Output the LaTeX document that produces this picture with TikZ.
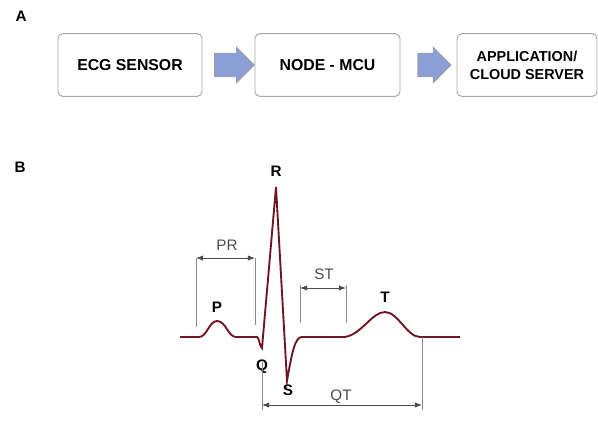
\documentclass[tikz,border=0pt]{standalone}
\usepackage{fontspec}
\setmainfont{Liberation Sans}
\usetikzlibrary{shapes.arrows,arrows.meta}

\definecolor{ecgred}{RGB}{112,22,34}
\definecolor{flowblue}{RGB}{140,158,214}
\definecolor{dimgray}{RGB}{75,75,75}

\tikzset{
    blockbox/.style={draw=gray!70, line width=0.8pt, rounded corners=4pt, fill=white,
        minimum height=1.88cm, align=center, font=\fontsize{13.5}{16}\selectfont\bfseries},
    flowarrow/.style={single arrow, draw=gray!75, line width=0.6pt, fill=flowblue,
        inner xsep=0pt, inner ysep=0.345cm, single arrow head extend=0.18cm},
    ecgline/.style={draw=ecgred, line width=1.6pt},
    dimline/.style={draw=dimgray, line width=0.7pt, {Latex[length=6pt,width=4.5pt]}-{Latex[length=6pt,width=4.5pt]}},
    extline/.style={draw=gray!90, line width=0.5pt},
    wavelabel/.style={font=\fontsize{13}{15}\selectfont\bfseries},
    intlabel/.style={text=dimgray, font=\fontsize{13}{15}\selectfont},
    panellabel/.style={font=\fontsize{13}{15}\selectfont\bfseries}
}

\begin{document}
\begin{tikzpicture}[x=0.03cm, y=-0.03cm]
    \useasboundingbox (0,0) rectangle (598,423);

    % Panel A: block chain
    \node[panellabel] (labA) at (21,16) {A};
    \node[blockbox, minimum width=4.32cm] (ecg) at (130,65) {ECG SENSOR};
    \node[blockbox, minimum width=4.35cm] (mcu) at (327.5,65) {NODE - MCU};
    \node[blockbox, minimum width=4.2cm, font=\fontsize{12.3}{15.5}\selectfont\bfseries] (cloud) at (527,65) {APPLICATION/\\CLOUD SERVER};
    \path (ecg) -- node[flowarrow, minimum height=1.2cm] (arr1) {} (mcu);
    \path (mcu) -- node[flowarrow, minimum height=1.0cm] (arr2) {} (cloud);

    % Panel B: ECG trace
    \node[panellabel] (labB) at (20,167) {B};
    \coordinate (pon) at (199,337);
    \coordinate (ptop) at (217,321);
    \coordinate (poff) at (236,337);
    \coordinate (qon) at (257,337);
    \coordinate (qbot) at (262,348);
    \coordinate (rtop) at (276,187);
    \coordinate (sbot) at (287,381);
    \coordinate (son) at (302,337);
    \coordinate (ton) at (345,337);
    \coordinate (ttop) at (385,312);
    \coordinate (toff) at (420,337);
    \draw[ecgline] (180,337) -- (pon)
        .. controls (207,337) and (209,321) .. (ptop)
        .. controls (226,321) and (228,337) .. (poff) -- (qon)
        .. controls (259,337) and (260,348) .. (qbot) -- (rtop) -- (sbot)
        .. controls (292,352) and (295,337) .. (son) -- (ton)
        .. controls (362,334) and (372,312) .. (ttop)
        .. controls (398,312) and (407,337) .. (toff) -- (460,337);

    % wave letters
    \node[wavelabel] (lR) at (276,171) {R};
    \node[wavelabel] (lP) at (217,307) {P};
    \node[wavelabel] (lT) at (385,297) {T};
    \node[wavelabel] (lQ) at (262,367) {Q};
    \node[wavelabel] (lS) at (288,390) {S};

    % PR interval
    \coordinate (prL) at (196,258);
    \coordinate (prR) at (255,258);
    \draw[extline] (prL) -- ++(0,69);
    \draw[extline] (prR) -- ++(0,67);
    \draw[dimline] (prL) -- (prR);
    \node[intlabel] (lPR) at (227,245) {PR};

    % ST segment
    \coordinate (stL) at (300,288);
    \coordinate (stR) at (346,288);
    \draw[extline] (stL) ++(0,-3) -- ++(0,38);
    \draw[extline] (stR) ++(0,-3) -- ++(0,38);
    \draw[dimline] (stL) -- (stR);
    \node[intlabel] (lST) at (324,274) {ST};

    % QT interval
    \coordinate (qtL) at (262,405);
    \coordinate (qtR) at (422,405);
    \draw[extline] (262,362) -- ++(0,48);
    \draw[extline] (toff) ++(2,0) -- ++(0,73);
    \draw[dimline] (qtL) -- (qtR);
    \node[intlabel] (lQT) at (341,397) {QT};
\end{tikzpicture}
\end{document}
